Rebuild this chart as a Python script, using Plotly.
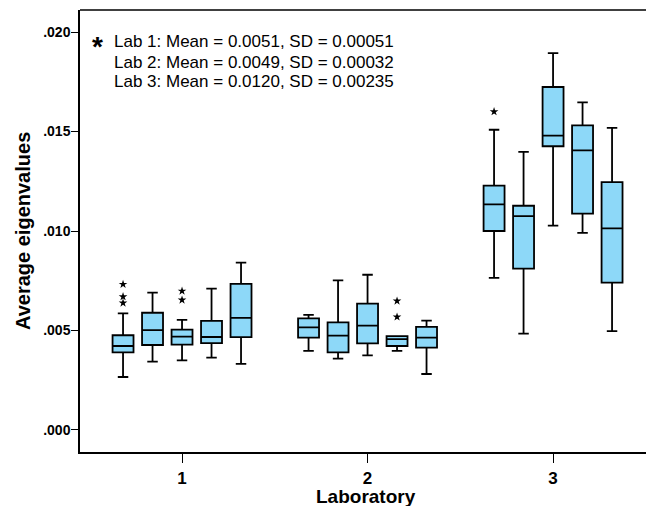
import plotly.graph_objects as go

labs = [1, 2, 3]
offsets = [-2, -1, 0, 1, 2]
lower_whisker = [0.00266, 0.00343, 0.00350, 0.00363, 0.00332,
                 0.00397, 0.00358, 0.00375, 0.00397, 0.00281,
                 0.00764, 0.00484, 0.01027, 0.00991, 0.00497]
q1_vals = [0.00390, 0.00427, 0.00429, 0.00436, 0.00466,
           0.00464, 0.00390, 0.00435, 0.00422, 0.00414,
           0.01000, 0.00811, 0.01426, 0.01087, 0.00740]
median_vals = [0.00422, 0.00502, 0.00469, 0.00467, 0.00563,
               0.00516, 0.00474, 0.00524, 0.00456, 0.00464,
               0.01134, 0.01075, 0.01479, 0.01405, 0.01013]
q3_vals = [0.00476, 0.00589, 0.00504, 0.00548, 0.00734,
           0.00561, 0.00541, 0.00635, 0.00472, 0.00518,
           0.01228, 0.01127, 0.01724, 0.01531, 0.01246]
upper_whisker = [0.00586, 0.00690, 0.00553, 0.00710, 0.00841,
                 0.00578, 0.00752, 0.00780, 0.00472, 0.00549,
                 0.01509, 0.01398, 0.01894, 0.01647, 0.01518]
# outliers: (lab, box offset, value)
outlier_lab = [1, 1, 1, 1, 1, 2, 2, 3]
outlier_box = [-2, -2, -2, 0, 0, 1, 1, -2]
outlier_val = [0.00732, 0.00670, 0.00638, 0.00698, 0.00653, 0.00648, 0.00568, 0.0160]

legend_lines = ["Lab 1: Mean = 0.0051, SD = 0.00051",
                "Lab 2: Mean = 0.0049, SD = 0.00032",
                "Lab 3: Mean = 0.0120, SD = 0.00235"]
ytick_vals = [0.0, 0.005, 0.010, 0.015, 0.020]
ytick_text = [".000", ".005", ".010", ".015", ".020"]

spacing = 0.159
xs = [lab + off * spacing for lab in labs for off in offsets]

fig = go.Figure()
fig.add_trace(go.Box(
    x=xs, q1=q1_vals, median=median_vals, q3=q3_vals,
    lowerfence=lower_whisker, upperfence=upper_whisker,
    width=0.113, whiskerwidth=0.5,
    fillcolor="#8DD8F8", line=dict(color="black", width=1.8),
    boxpoints=False, showlegend=False, hoverinfo="skip"))

fig.add_trace(go.Scatter(
    x=[l + b * spacing for l, b in zip(outlier_lab, outlier_box)],
    y=outlier_val, mode="markers",
    marker=dict(symbol="star", size=6.5, color="black"),
    showlegend=False, hoverinfo="skip"))

font_family = "Liberation Sans, Arial, sans-serif"
L, R, T, B = 80, 0, 10, 54
W, H = 646, 506
pw, ph = W - L - R, H - T - B

fig.update_layout(
    width=W, height=H,
    margin=dict(l=L, r=R, t=T, b=B, autoexpand=False),
    paper_bgcolor="white", plot_bgcolor="white",
    font=dict(family=font_family, color="black"),
    xaxis=dict(range=[0.45, 3.501], tickvals=labs, ticktext=[str(l) for l in labs],
               ticks="outside", ticklen=9, tickwidth=1.2, tickcolor="black",
               showline=True, linecolor="black", linewidth=2.2,
               showgrid=False, zeroline=False, automargin=False,
               tickfont=dict(size=17, family=font_family, weight="bold")),
    yaxis=dict(range=[-0.00111, 0.02111], tickvals=ytick_vals, ticktext=ytick_text,
               ticks="outside", ticklen=7, tickwidth=1.2, tickcolor="black",
               showline=True, linecolor="black", linewidth=1.5,
               showgrid=False, zeroline=False, automargin=False,
               ticklabelstandoff=-2,
               tickfont=dict(size=14, family=font_family, weight="bold")),
)

# top frame line
fig.add_shape(type="line", xref="paper", yref="paper", x0=0, x1=1, y0=1, y1=1,
              line=dict(color="black", width=1.5))

def px(xp):
    return (xp - L) / pw

def py(yp):
    return 1 - (yp - T) / ph

# axis titles
fig.add_annotation(xref="paper", yref="paper", x=px(23), y=py(231),
                   text="<b>Average eigenvalues</b>", textangle=-90, showarrow=False,
                   font=dict(size=20), xanchor="center", yanchor="middle")
fig.add_annotation(xref="paper", yref="paper", x=px(366), y=py(496),
                   text="<b>Laboratory</b>", showarrow=False,
                   font=dict(size=19), xanchor="center", yanchor="middle")

# legend text block
fig.add_annotation(xref="paper", yref="paper", x=px(97), y=py(46),
                   text="<b>*</b>", showarrow=False, font=dict(size=28),
                   xanchor="center", yanchor="middle")
for i, line in enumerate(legend_lines):
    fig.add_annotation(xref="paper", yref="paper", x=px(112), y=py(42 + 20 * i),
                       text=line, showarrow=False, align="left",
                       xanchor="left", yanchor="middle", font=dict(size=17))

fig.write_html("out.html", config={"displayModeBar": False},
               post_script="document.body.style.margin='0';"
                           "document.body.style.overflow='hidden';"
                           "document.documentElement.style.overflow='hidden';")
